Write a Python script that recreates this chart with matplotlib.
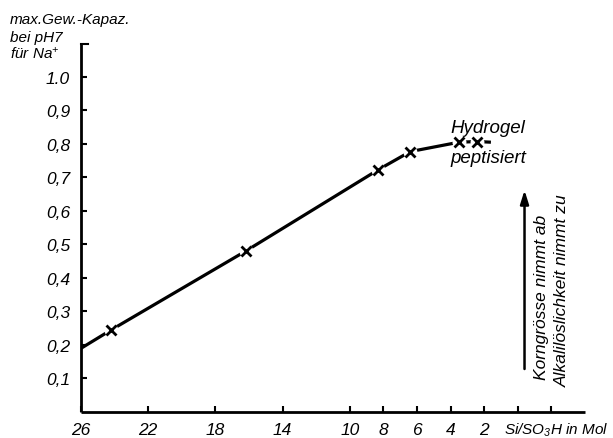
import matplotlib
matplotlib.use("Agg")
import matplotlib.pyplot as plt

# ---- data ----
si_ratio = [26.0, 24.2, 16.2, 8.3, 6.4, 3.5, 2.4, 1.6]
capacity = [0.19, 0.245, 0.48, 0.723, 0.777, 0.805, 0.807, 0.805]
marker_x = [24.2, 16.2, 8.3, 6.4, 3.5, 2.4]
marker_y = [0.245, 0.48, 0.723, 0.777, 0.805, 0.807]

x_ticks = [26, 22, 18, 14, 10, 8, 6, 4, 2, 0, -2]
x_ticklabels = ["26", "22", "18", "14", "10", "8", "6", "4", "2", "", ""]
y_ticks = [0.1, 0.2, 0.3, 0.4, 0.5, 0.6, 0.7, 0.8, 0.9, 1.0]
y_ticklabels = ["0,1", "0,2", "0,3", "0,4", "0,5", "0,6", "0,7", "0,8", "0,9", "1.0"]

FONT = ["Liberation Sans", "DejaVu Sans"]
plt.rcParams["font.family"] = FONT
plt.rcParams["font.style"] = "italic"
plt.rcParams["mathtext.fontset"] = "custom"
plt.rcParams["mathtext.rm"] = "Liberation Sans:italic"
plt.rcParams["mathtext.it"] = "Liberation Sans:italic"

W, H = 613, 439
fig = plt.figure(figsize=(W / 100, H / 100), dpi=100)
ax = fig.add_axes([81 / W, (H - 413) / H, (585 - 81) / W, (413 - 45) / H])

ax.set_xlim(26, -4)
ax.set_ylim(0, 1.098)

for s in ["top", "right"]:
    ax.spines[s].set_visible(False)
for s in ["left", "bottom"]:
    ax.spines[s].set_linewidth(2.0)
    ax.spines[s].set_capstyle("butt")

ax.plot(si_ratio, capacity, color="black", lw=2.3, solid_capstyle="butt", zorder=3)
ax.plot(marker_x, marker_y, ls="none", marker="o", ms=10, mfc="white", mec="none", zorder=4)
ax.plot(marker_x, marker_y, ls="none", marker="x", ms=6.5, mew=2.0, color="black", zorder=5)

ax.set_xticks(x_ticks)
ax.set_xticklabels(x_ticklabels, fontsize=12.5, style="italic")
ax.set_yticks(y_ticks)
ax.set_yticklabels(y_ticklabels, fontsize=12.5, style="italic")
ax.tick_params(axis="both", direction="in", length=4, width=1.5, colors="black")
ax.tick_params(axis="x", pad=7)
ax.tick_params(axis="y", pad=8)

# serif at top of y axis
ax.plot([26, 25.6], [1.098, 1.098], color="black", lw=1.5, clip_on=False, zorder=6)

# y axis title
fig.text(10 / W, 1 - 20 / H, "max.Gew.-Kapaz.", fontsize=11, style="italic", va="center", ha="left")
fig.text(10 / W, 1 - 38 / H, "bei pH7", fontsize=11, style="italic", va="center", ha="left")
fig.text(10 / W, 1 - 54 / H, "für Na$^{+}$", fontsize=11, style="italic", va="center", ha="left")

# x axis title
fig.text(504 / W, 1 - 430 / H, "Si/SO$_3$H in Mol", fontsize=11, style="italic", va="center", ha="left")

# annotations
ax.text(1.8, 0.85, "Hydrogel", fontsize=13.5, style="italic", ha="center", va="center")
ax.text(1.74, 0.758, "peptisiert", fontsize=13.5, style="italic", ha="center", va="center")
ax.annotate("", xy=(-0.4, 0.67), xytext=(-0.4, 0.12),
            arrowprops=dict(arrowstyle="-|>,head_length=0.8,head_width=0.25", color="black", lw=1.8))
ax.text(-1.44, 0.098, "Korngrösse nimmt ab", fontsize=12.5, style="italic", rotation=90,
        ha="center", va="bottom")
ax.text(-2.63, 0.078, "Alkalilöslichkeit nimmt zu", fontsize=12.5, style="italic", rotation=90,
        ha="center", va="bottom")

fig.savefig("out.png", dpi=100)
